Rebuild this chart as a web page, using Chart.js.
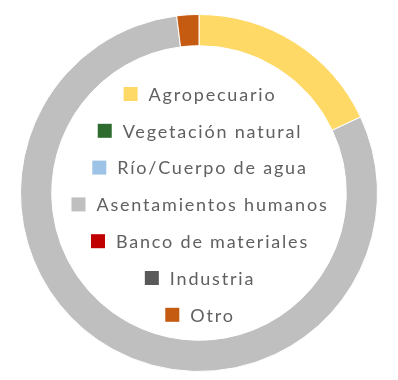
<!DOCTYPE html>
<html>
<head>
<meta charset="utf-8">
<script src="https://cdn.jsdelivr.net/npm/chart.js@4.4.1/dist/chart.umd.min.js"></script>
<style>
    html, body { margin: 0; padding: 0; background: #ffffff; }
    #wrap { width: 398px; height: 380px; position: relative; }
</style>
</head>
<body>
<div id="wrap"><canvas id="usoSueloChart"></canvas></div>
<script>
var categories = ['Agropecuario', 'Vegetación natural', 'Río/Cuerpo de agua', 'Asentamientos humanos', 'Banco de materiales', 'Industria', 'Otro'];
var shares = [18, 0, 0, 80, 0, 0, 2];
var colors = ['#FFD966', '#2E6B2E', '#9DC3E6', '#BFBFBF', '#C00000', '#595959', '#C55A11'];

// legend drawn in the hole of the doughnut
var centerLegend = {
    id: 'centerLegend',
    afterDraw: function(chart) {
        var ctx = chart.ctx;
        var labels = chart.data.labels;
        var bg = chart.data.datasets[0].backgroundColor;
        var cx = 200, y0 = 94, step = 36.8, box = 14, gap = 11;

        ctx.save();
        ctx.font = '18px Lato';
        ctx.letterSpacing = '1.8px';
        ctx.textBaseline = 'middle';
        labels.forEach(function(label, i) {
            var w = ctx.measureText(label).width;
            var total = box + gap + w;
            var x = cx - total / 2;
            var y = y0 + i * step;
            ctx.fillStyle = bg[i];
            ctx.fillRect(x, y - box / 2, box, box);
            ctx.fillStyle = '#606060';
            ctx.textAlign = 'left';
            ctx.fillText(label, x + box + gap, y + 1);
        });
        ctx.restore();
    }
};

var ctx = document.getElementById('usoSueloChart').getContext('2d');
new Chart(ctx, {
    type: 'doughnut',
    data: {
        labels: categories,
        datasets: [{
            data: shares,
            backgroundColor: colors,
            borderColor: '#ffffff',
            borderWidth: 1
        }]
    },
    options: {
        responsive: true,
        maintainAspectRatio: false,
        animation: false,
        cutout: '82.5%',
        layout: {
            padding: { top: 14, bottom: 8, left: 20, right: 20 }
        },
        plugins: {
            legend: { display: false },
            tooltip: { enabled: false }
        }
    },
    plugins: [centerLegend]
});
</script>
</body>
</html>
